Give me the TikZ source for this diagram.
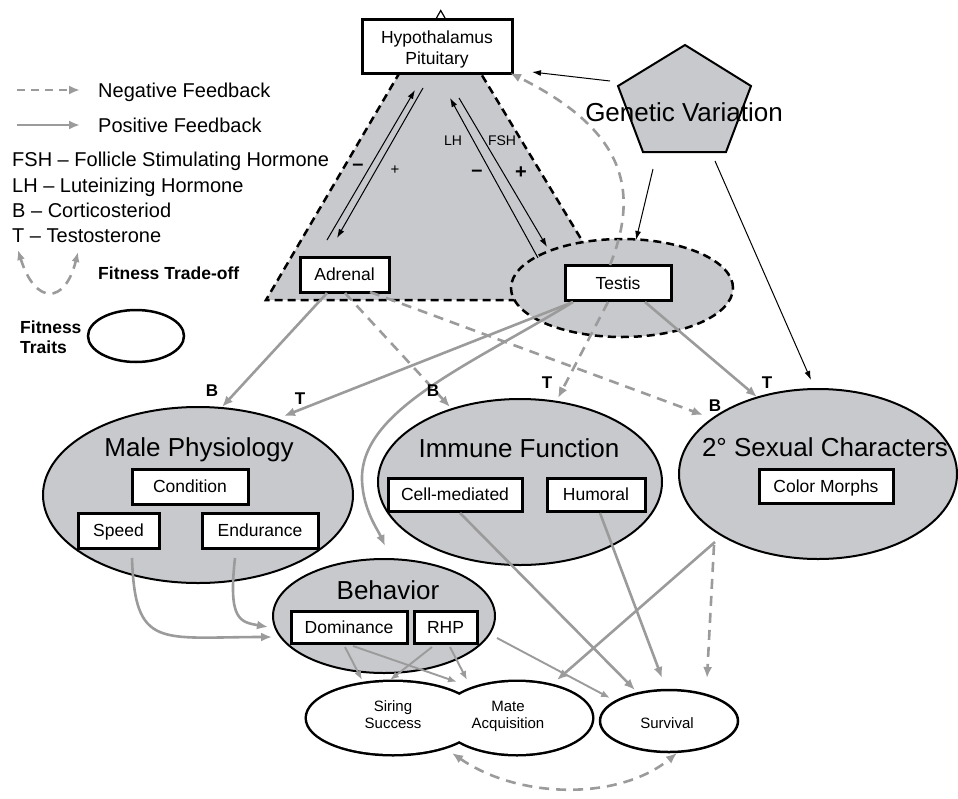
\documentclass[tikz,border=0pt]{standalone}
\usepackage{fontspec}
\setmainfont{Liberation Sans}
\usetikzlibrary{shapes.geometric,arrows.meta}
\definecolor{fillg}{RGB}{200,201,204}
\definecolor{lineg}{RGB}{155,155,155}
\newcommand{\fsz}[2]{\fontsize{#1pt}{#2pt}\selectfont}
\begin{document}
\begin{tikzpicture}[x=1pt,y=-1pt,
 box/.style={draw, line width=3pt, fill=white, inner sep=0pt, font=\fsz{17.5}{21}, text height=12.5pt, text depth=0pt},
 bigoval/.style={ellipse, draw, line width=2pt, fill=fillg, inner sep=0pt},
 fitoval/.style={ellipse, draw, line width=5pt, fill=white, inner sep=0pt},
 bigtxt/.style={inner sep=0pt, font=\fsz{26}{30}, text height=18.6pt, text depth=0pt},
 legtxt/.style={inner sep=0pt, anchor=west, font=\fsz{20}{24}, text height=14.3pt, text depth=0pt},
 lbl/.style={inner sep=0pt, font=\bfseries\fsz{17}{20}, text height=12.2pt, text depth=0pt},
 smalltxt/.style={inner sep=0pt, font=\fsz{14}{17}, text height=10pt, text depth=0pt},
 garr/.style={draw=lineg, line width=2.6pt, -{Latex[length=11pt,width=9pt]}},
 gdash/.style={garr, dash pattern=on 10pt off 7pt},
 tarr/.style={draw=lineg, line width=1.9pt, -{Latex[length=9pt,width=7pt]}},
 barr/.style={draw=black, line width=1pt, -{Latex[length=9pt,width=6pt]}},
 hdash/.style={dash pattern=on 8pt off 5pt}
]
\useasboundingbox (0,0) rectangle (958,798);

% ---------- HPA region ----------
\path[fill=fillg, draw=black, line width=2.5pt, hdash] (400,72) -- (266,300) -- (618,300) -- (480,72) -- cycle;
\node[ellipse, draw, line width=2.5pt, hdash, fill=fillg, minimum width=222pt, minimum height=98pt, inner sep=0pt] (testisE) at (622,288) {};
\node[box, minimum width=150pt, minimum height=54pt] (hp) at (437,46) {};
\node[inner sep=0pt, font=\fsz{17.5}{21}, align=center] (hptxt) at (437,49.2) {Hypothalamus\\Pituitary};
\draw[line width=1.2pt] (436.5,18) -- (440.7,10.5) -- (445,18);
\node[box, minimum width=89pt, minimum height=35pt] (adrenal) at (344.5,274.5) {Adrenal};
\node[box, minimum width=106pt, minimum height=35pt] (testis) at (618,283) {Testis};

% ---------- Genetic variation ----------
\path[fill=fillg, draw=black, line width=2pt] (685,45) -- (751,86) -- (726,152) -- (643,152) -- (618,86) -- cycle;
\node[bigtxt] (gv) at (684,112) {Genetic Variation};

% ---------- Trait ellipses ----------
\node[bigoval, minimum width=310pt, minimum height=176pt] (male) at (198,495) {};
\node[bigtxt] (maletxt) at (199,447) {Male Physiology};
\node[box, minimum width=116pt, minimum height=35pt] (cond) at (190,486.5) {Condition};
\node[box, minimum width=81pt, minimum height=35pt] (speed) at (118.5,530.5) {Speed};
\node[box, minimum width=116pt, minimum height=35pt] (endur) at (260,530.5) {Endurance};

\node[bigoval, minimum width=284pt, minimum height=166pt] (immune) at (520,482) {};
\node[bigtxt] (immtxt) at (519,448) {Immune Function};
\node[box, minimum width=134pt, minimum height=33pt] (cell) at (455,494.5) {Cell-mediated};
\node[box, minimum width=98pt, minimum height=33pt] (humoral) at (596,494.5) {Humoral};

\node[bigoval, minimum width=278pt, minimum height=170pt] (sex) at (818,474) {};
\node[bigtxt] (sextxt) at (825,447) {2° Sexual Characters};
\node[box, minimum width=134pt, minimum height=34pt] (color) at (826,486) {Color Morphs};

\node[bigoval, minimum width=222pt, minimum height=114pt] (behav) at (384,616) {};
\node[bigtxt] (behtxt) at (388,590) {Behavior};
\node[box, minimum width=116pt, minimum height=32pt] (dom) at (349,627) {Dominance};
\node[box, minimum width=63pt, minimum height=32pt] (rhp) at (445.5,627) {RHP};

% ---------- Fitness ellipses ----------
\node[fitoval, minimum width=172pt, minimum height=72pt] (siring) at (393,718) {};
\node[fitoval, minimum width=150pt, minimum height=72pt] (mate) at (517,718) {};
\fill[white] (siring.center) ellipse [x radius=86, y radius=36];
\fill[white] (mate.center) ellipse [x radius=75, y radius=36];
\node[inner sep=0pt, font=\fsz{15}{17}, align=center] (sirtxt) at (393,714.5) {Siring\\Success};
\node[inner sep=0pt, font=\fsz{15}{17}, align=center] (matetxt) at (508,716) {Mate\\Acquisition};
\node[ellipse, draw, line width=2.5pt, fill=white, inner sep=0pt, minimum width=138pt, minimum height=62pt] (surv) at (669,721) {};
\node[inner sep=0pt, font=\fsz{15}{17}, text height=10.7pt, text depth=0pt] (survtxt) at (667,723) {Survival};

% ---------- black thin arrows ----------
\draw[barr] ([shift={(-74,-31)}]gv.center) -- ([shift={(95,26)}]hp.center);
\draw[barr] ([shift={(-31,57)}]gv.center) -- ([shift={(14,-48)}]testisE.center);
\draw[barr] ([shift={(31,49)}]gv.center) -- ([shift={(-7,-94)}]sex.center);
\draw[barr] ([shift={(-17.5,-34.5)}]adrenal.center) -- ([shift={(-22,44)}]hp.center);
\draw[barr] ([shift={(-14,42)}]hp.center) -- ([shift={(-7.5,-36.5)}]adrenal.center);
\draw[barr] ([shift={(-80,-25)}]testis.center) -- ([shift={(13,52)}]hp.center);
\draw[barr] ([shift={(22,52)}]hp.center) -- ([shift={(-71,-36)}]testis.center);
\node[inner sep=0pt, font=\bfseries\fsz{20}{24}] (m1) at (358,167) {–};
\node[inner sep=0pt, font=\fsz{15}{18}] (p1) at (395,170) {+};
\node[smalltxt] (lh) at (453,140) {LH};
\node[smalltxt] (fsh) at (502,140) {FSH};
\node[inner sep=0pt, font=\bfseries\fsz{20}{24}] (m2) at (477,173) {–};
\node[inner sep=0pt, font=\bfseries\fsz{20}{24}] (p2) at (521,173) {+};

% ---------- gray arrows ----------
\draw[gdash] ([shift={(-8,-18)}]testis.center) .. controls (640,190) and (625,130) .. ([shift={(73,27)}]hp.center);
\draw[garr] ([shift={(-17.5,18.5)}]adrenal.center) -- ([shift={(24,-88)}]male.center);
\draw[garr] ([shift={(-45,19)}]testis.center) -- ([shift={(86,-79)}]male.center);
\draw[garr] ([shift={(-45,19)}]testis.center) .. controls (470,365) and (360,410) .. (362,480) .. controls (363,510) and (378,530) .. ([shift={(1,-70)}]behav.center);
\draw[gdash] ([shift={(0.5,18.5)}]adrenal.center) -- ([shift={(-70,-75)}]immune.center);
\draw[gdash] ([shift={(25.5,17.5)}]adrenal.center) -- ([shift={(-115,-59)}]sex.center);
\draw[gdash] ([shift={(-10,19)}]testis.center) -- ([shift={(38,-84)}]immune.center);
\draw[garr] ([shift={(27,19)}]testis.center) -- ([shift={(-61,-77)}]sex.center);
\draw[garr] ([shift={(13.5,27.5)}]speed.center) .. controls (135,650) and (160,637) .. ([shift={(-112,21)}]behav.center);
\draw[garr] ([shift={(-25,27.5)}]endur.center) .. controls (228,620) and (240,622) .. ([shift={(-116,11)}]behav.center);
\draw[garr] ([shift={(5,18.5)}]cell.center) -- ([shift={(-34,-31)}]surv.center);
\draw[garr] ([shift={(4,18.5)}]humoral.center) -- ([shift={(-7,-43)}]surv.center);
\draw[garr] ([shift={(-103,68)}]sex.center) -- ([shift={(40,-38)}]mate.center);
\draw[gdash] ([shift={(-104,71)}]sex.center) -- ([shift={(38,-43)}]surv.center);
\draw[tarr] ([shift={(113,22)}]behav.center) -- ([shift={(-59,-23)}]surv.center);
\draw[tarr] ([shift={(-4,20)}]dom.center) -- ([shift={(-31,-38)}]siring.center);
\draw[tarr] ([shift={(4,19)}]dom.center) -- ([shift={(-60,-36)}]mate.center);
\draw[tarr] ([shift={(-13.5,20)}]rhp.center) -- ([shift={(-3,-38)}]siring.center);
\draw[tarr] ([shift={(4.5,20)}]rhp.center) -- ([shift={(-50,-38)}]mate.center);
\draw[gdash, {Latex[length=11pt,width=9pt]}-{Latex[length=11pt,width=9pt]}] ([shift={(-65,35)}]mate.center) .. controls (520,800) and (620,800) .. ([shift={(8,32)}]surv.center);

% ---------- hormone labels ----------
\node[lbl] (lb1) at (212,390) {B};
\node[lbl] (lt1) at (300,398) {T};
\node[lbl] (lb2) at (433,390) {B};
\node[lbl] (lt2) at (547,382) {T};
\node[lbl] (lb3) at (715,405) {B};
\node[lbl] (lt3) at (767,382) {T};

% ---------- legend ----------
\node[legtxt] (legneg) at (98,90) {Negative Feedback};
\node[legtxt] (legpos) at (98,125) {Positive Feedback};
\coordinate (lna) at (17,90);
\coordinate (lpa) at (17,125);
\draw[gdash, dash pattern=on 8pt off 6pt] (lna) -- ([xshift=-18pt]legneg.west);
\draw[garr] (lpa) -- ([xshift=-18pt]legpos.west);
\node[legtxt] (legfsh) at (12,159) {FSH – Follicle Stimulating Hormone};
\node[legtxt] (leglh) at (12,185) {LH – Luteinizing Hormone};
\node[legtxt] (legb) at (12,210) {B – Corticosteriod};
\node[legtxt] (legt) at (12,235) {T – Testosterone};
\coordinate (toa) at (18,250);
\coordinate (tob) at (78,252);
\draw[gdash, {Latex[length=10pt,width=8pt]}-{Latex[length=10pt,width=8pt]}] (toa) .. controls (35,305) and (65,305) .. (tob);
\node[inner sep=0pt, anchor=west, font=\bfseries\fsz{17.5}{20}, text height=12.5pt, text depth=0pt] (legto) at (98,273) {Fitness Trade-off};
\node[inner sep=0pt, anchor=west, align=left, font=\bfseries\fsz{17.5}{20}] (legfit) at (20,337) {Fitness\\Traits};
\node[ellipse, draw, line width=2.5pt, fill=white, inner sep=0pt, minimum width=96pt, minimum height=52pt] (fitleg) at (136,336) {};
\end{tikzpicture}
\end{document}
